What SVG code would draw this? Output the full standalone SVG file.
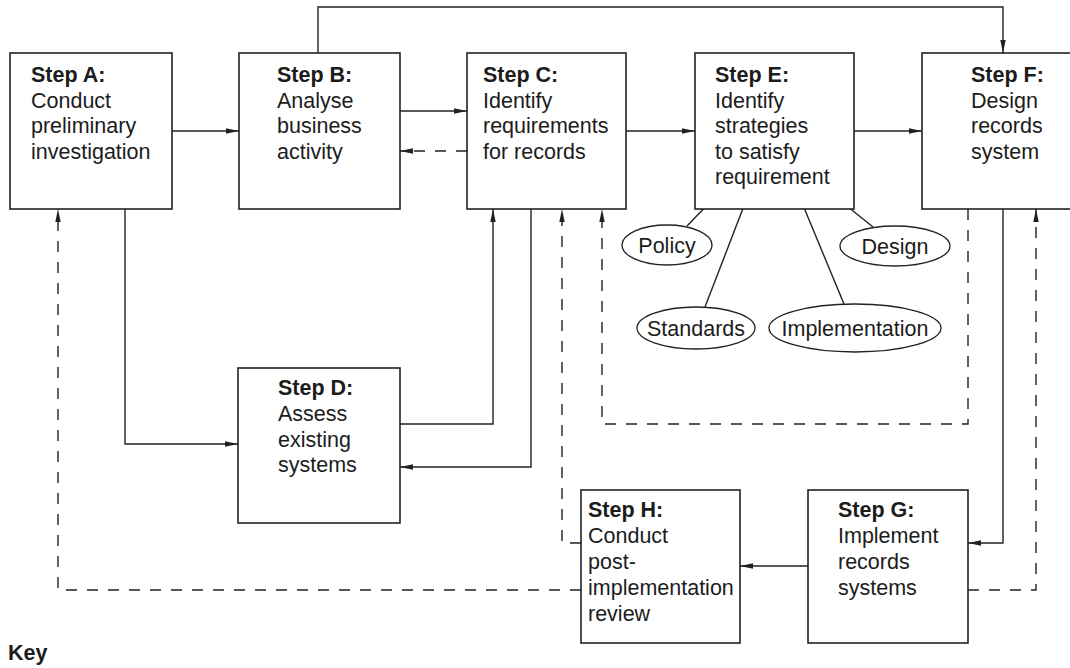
<svg xmlns="http://www.w3.org/2000/svg" width="1070" height="668" viewBox="0 0 1070 668">
  <style>
    .box { fill: #ffffff; stroke: #222222; stroke-width: 1.6; }
    .oval { fill: #ffffff; stroke: #222222; stroke-width: 1.3; }
    .t { font-family: "Liberation Sans", Arial, sans-serif; font-size: 21.5px; fill: #1c1c1c; }
    .b { font-weight: bold; }
    .c { text-anchor: middle; }
    .ln { fill: none; stroke: #222222; stroke-width: 1.4; }
    .dash { stroke-dasharray: 11 10; }
  </style>
  <defs>
    <marker id="arr" markerUnits="userSpaceOnUse" markerWidth="14" markerHeight="8" refX="13" refY="3.5" orient="auto">
      <path d="M0,0.8 L13,3.5 L0,6.2 Z" fill="#222222"/>
    </marker>
  </defs>
  <rect width="1070" height="668" fill="#ffffff"/>

  <!-- connectors -->
  <g id="connectors">
    <path class="ln" d="M172,131 H239" marker-end="url(#arr)"/>
    <path class="ln" d="M400,111 H467" marker-end="url(#arr)"/>
    <path class="ln dash" d="M467,151 H400" marker-end="url(#arr)"/>
    <path class="ln" d="M626,131 H695" marker-end="url(#arr)"/>
    <path class="ln" d="M854,131 H922" marker-end="url(#arr)"/>
    <path class="ln" d="M318,53 V7 H1003 V53" marker-end="url(#arr)"/>
    <path class="ln" d="M125,209 V444 H238" marker-end="url(#arr)"/>
    <path class="ln" d="M400,424 H493 V209" marker-end="url(#arr)"/>
    <path class="ln" d="M531,209 V467 H400" marker-end="url(#arr)"/>
    <path class="ln dash" d="M968,209 V424 H602 V209" marker-end="url(#arr)"/>
    <path class="ln" d="M1003,209 V543 H968" marker-end="url(#arr)"/>
    <path class="ln" d="M808,566 H740" marker-end="url(#arr)"/>
    <path class="ln dash" d="M581,543 H562 V209" marker-end="url(#arr)"/>
    <path class="ln dash" d="M581,590 H58 V209" marker-end="url(#arr)"/>
    <path class="ln dash" d="M968,590 H1036 V209" marker-end="url(#arr)"/>
    <!-- strategy links from Step E -->
    <path class="ln" d="M713,199 L687,226"/>
    <path class="ln" d="M747,198 L705,307"/>
    <path class="ln" d="M800,198 L844,304"/>
    <path class="ln" d="M837,198 L873,227"/>
  </g>

  <g id="step-a">
    <rect class="box" x="10" y="53" width="162" height="156"/>
    <text class="t b" x="31" y="82">Step A:</text>
    <text class="t" x="31" y="107.5">Conduct</text>
    <text class="t" x="31" y="133">preliminary</text>
    <text class="t" x="31" y="158.5">investigation</text>
  </g>

  <g id="step-b">
    <rect class="box" x="239" y="53" width="161" height="156"/>
    <text class="t b" x="277" y="82">Step B:</text>
    <text class="t" x="277" y="107.5">Analyse</text>
    <text class="t" x="277" y="133">business</text>
    <text class="t" x="277" y="158.5">activity</text>
  </g>

  <g id="step-c">
    <rect class="box" x="467" y="53" width="159" height="156"/>
    <text class="t b" x="483" y="82">Step C:</text>
    <text class="t" x="483" y="107.5">Identify</text>
    <text class="t" x="483" y="133">requirements</text>
    <text class="t" x="483" y="158.5">for records</text>
  </g>

  <g id="step-e">
    <rect class="box" x="695" y="53" width="159" height="156"/>
    <text class="t b" x="715" y="82">Step E:</text>
    <text class="t" x="715" y="107.5">Identify</text>
    <text class="t" x="715" y="133">strategies</text>
    <text class="t" x="715" y="158.5">to satisfy</text>
    <text class="t" x="715" y="184">requirement</text>
  </g>

  <g id="step-f">
    <rect class="box" x="922" y="53" width="162" height="156"/>
    <text class="t b" x="971" y="82">Step F:</text>
    <text class="t" x="971" y="107.5">Design</text>
    <text class="t" x="971" y="133">records</text>
    <text class="t" x="971" y="158.5">system</text>
  </g>

  <g id="step-d">
    <rect class="box" x="238" y="368" width="162" height="155"/>
    <text class="t b" x="278" y="395">Step D:</text>
    <text class="t" x="278" y="421">Assess</text>
    <text class="t" x="278" y="446.5">existing</text>
    <text class="t" x="278" y="472">systems</text>
  </g>

  <g id="step-h">
    <rect class="box" x="581" y="490" width="159" height="153"/>
    <text class="t b" x="588" y="517">Step H:</text>
    <text class="t" x="588" y="543">Conduct</text>
    <text class="t" x="588" y="569">post-</text>
    <text class="t" x="588" y="595">implementation</text>
    <text class="t" x="588" y="621">review</text>
  </g>

  <g id="step-g">
    <rect class="box" x="808" y="490" width="160" height="153"/>
    <text class="t b" x="838" y="517">Step G:</text>
    <text class="t" x="838" y="543">Implement</text>
    <text class="t" x="838" y="569">records</text>
    <text class="t" x="838" y="595">systems</text>
  </g>

  <g id="policy">
    <ellipse class="oval" cx="667" cy="245" rx="45" ry="20"/>
    <text class="t c" x="667" y="252.5">Policy</text>
  </g>
  <g id="design">
    <ellipse class="oval" cx="895" cy="246" rx="55" ry="20"/>
    <text class="t c" x="895" y="253.5">Design</text>
  </g>
  <g id="standards">
    <ellipse class="oval" cx="696" cy="328" rx="59" ry="21"/>
    <text class="t c" x="696" y="335.5">Standards</text>
  </g>
  <g id="implementation">
    <ellipse class="oval" cx="855" cy="328" rx="86" ry="24"/>
    <text class="t c" x="855" y="335.5">Implementation</text>
  </g>

  <g id="key">
    <text class="t b" x="8" y="660">Key</text>
  </g>
</svg>
